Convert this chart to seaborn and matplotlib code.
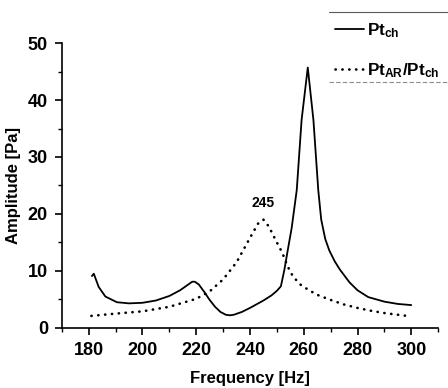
import numpy as np
import pandas as pd
import matplotlib
matplotlib.use("Agg")
import matplotlib.pyplot as plt
from matplotlib.lines import Line2D
from matplotlib.ticker import MultipleLocator
import seaborn as sns

# --- values ---
freq_ch = [181.2, 181.9, 183.7, 186.2, 190.5, 195, 200, 205, 210, 214, 217, 218.5, 219.5,
           221, 223, 225, 227, 229, 231, 232.5, 234, 237, 240, 245, 248, 250, 251.5, 252.8,
           254, 255.5, 257.4, 259.2, 261.5, 263.6, 265.4, 266.5, 268, 269.5, 271.5, 273.5,
           277, 280, 284, 290, 295, 300]
amp_ch = [9.1, 9.5, 7.2, 5.5, 4.5, 4.3, 4.4, 4.8, 5.6, 6.6, 7.6, 8.1, 8.1,
          7.6, 6.3, 4.9, 3.7, 2.8, 2.3, 2.2, 2.3, 2.8, 3.5, 4.8, 5.7, 6.5, 7.3, 10.2,
          13.5, 17.5, 24.2, 36.5, 45.7, 36.5, 24.2, 19.0, 15.6, 13.6, 11.7, 10.2,
          8.0, 6.6, 5.4, 4.6, 4.2, 4.0]

freq_ar = [181, 190, 200, 210, 215, 220, 225, 230, 235, 240, 243, 245, 247, 250, 252, 254,
           256, 259, 262, 265, 270, 275, 280, 285, 290, 300]
amp_ar = [2.1, 2.5, 2.9, 3.7, 4.4, 5.1, 6.4, 8.5, 11.5, 15.8, 18.3, 19.0, 17.8, 15.0, 13.2,
          10.8, 9.0, 7.5, 6.6, 5.8, 4.9, 4.1, 3.5, 3.0, 2.6, 2.0]

peak_label = "245"

df_ch = pd.DataFrame({"Frequency": freq_ch, "Amplitude": amp_ch})
df_ar = pd.DataFrame({"Frequency": freq_ar, "Amplitude": amp_ar})

sns.set_style("ticks")
plt.rcParams["font.family"] = ["Liberation Sans", "DejaVu Sans"]
plt.rcParams["font.weight"] = "bold"
plt.rcParams["text.color"] = "black"
plt.rcParams["axes.labelcolor"] = "black"
plt.rcParams["xtick.color"] = "black"
plt.rcParams["ytick.color"] = "black"
plt.rcParams["axes.edgecolor"] = "black"
plt.rcParams["mathtext.fontset"] = "custom"
plt.rcParams["mathtext.rm"] = "Liberation Sans:bold"
plt.rcParams["mathtext.bf"] = "Liberation Sans:bold"
plt.rcParams["mathtext.default"] = "bf"

fig = plt.figure(figsize=(4.48, 3.88), dpi=100)
ax = fig.add_axes([0.138, 0.155, 0.840, 0.734])

sns.lineplot(data=df_ch, x="Frequency", y="Amplitude", ax=ax, color="black",
             linewidth=1.3, label=r"$Pt_{ch}$")
sns.lineplot(data=df_ar, x="Frequency", y="Amplitude", ax=ax, color="black",
             linewidth=1.9, linestyle=(0, (0.1, 2.5)), dash_capstyle="round",
             label=r"$Pt_{AR}/Pt_{ch}$")

ax.text(245, 20.7, peak_label, ha="center", va="bottom", fontsize=10, fontweight="bold")

ax.set_xlim(170, 310)
ax.set_ylim(0, 50)
ax.xaxis.set_minor_locator(MultipleLocator(10))
ax.yaxis.set_major_locator(MultipleLocator(10))
ax.yaxis.set_minor_locator(MultipleLocator(5))
ax.set_xticks(range(180, 301, 20))
ax.tick_params(which="major", length=5, width=1.2, labelsize=13, pad=5)
ax.tick_params(which="minor", length=3, width=1.0)
for lab in ax.get_xticklabels() + ax.get_yticklabels():
    lab.set_fontweight("bold")
ax.set_xlabel("Frequency [Hz]", fontsize=12, fontweight="bold", labelpad=9)
ax.set_ylabel("Amplitude [Pa]", fontsize=12, fontweight="bold", labelpad=5)
sns.despine(ax=ax)
for s in ("left", "bottom"):
    ax.spines[s].set_linewidth(1.2)

handles, labels = ax.get_legend_handles_labels()
ax.get_legend().remove()
fig.legend(handles, labels, loc="upper left", bbox_to_anchor=(0.748, 0.946),
           frameon=False, fontsize=12.3, handlelength=1.7, handletextpad=0.15,
           labelspacing=1.25, borderaxespad=0, borderpad=0)
fig.add_artist(Line2D([0.735, 1.0], [0.968, 0.968], color="0.35", linewidth=0.8))
fig.add_artist(Line2D([0.735, 1.0], [0.788, 0.788], color="0.55", linewidth=0.8,
                      linestyle=(0, (4, 2))))

fig.savefig("out.png", dpi=100)
